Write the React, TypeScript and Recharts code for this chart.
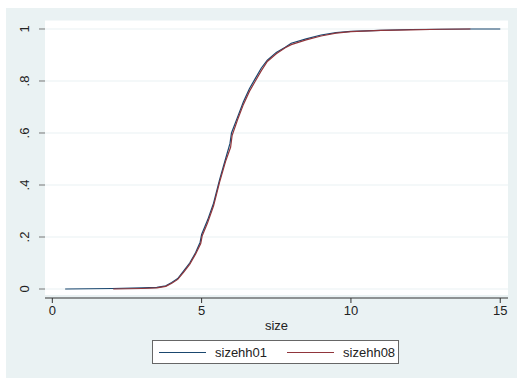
import React from "react";
import { LineChart, Line, XAxis, YAxis, CartesianGrid, ReferenceArea } from "recharts";

// Empirical CDFs of household size, two survey rounds
const sizes01 = [0.43, 2.0, 3.0, 3.5, 3.8, 4.0, 4.2, 4.4, 4.6, 4.8, 4.95, 5.0, 5.2, 5.4, 5.6, 5.8, 5.95, 6.0, 6.2, 6.4, 6.6, 6.8, 7.0, 7.2, 7.5, 7.8, 8.0, 8.5, 9.0, 9.5, 10.0, 11.0, 12.0, 13.0, 14.0, 15.0];
const cdf01 = [0, 0.002, 0.004, 0.006, 0.012, 0.025, 0.04, 0.07, 0.1, 0.14, 0.18, 0.21, 0.265, 0.33, 0.42, 0.5, 0.56, 0.6, 0.66, 0.72, 0.77, 0.81, 0.85, 0.88, 0.91, 0.93, 0.945, 0.962, 0.977, 0.986, 0.991, 0.995, 0.998, 0.999, 1.0, 1.0];

const sizes08 = [2.04, 3.0, 3.5, 3.8, 4.0, 4.2, 4.4, 4.6, 4.8, 4.97, 5.02, 5.2, 5.4, 5.6, 5.8, 5.97, 6.02, 6.2, 6.4, 6.6, 6.8, 7.0, 7.2, 7.5, 7.8, 8.0, 8.5, 9.0, 9.5, 10.0, 11.0, 12.0, 13.0, 14.0];
const cdf08 = [0, 0.002, 0.004, 0.01, 0.022, 0.037, 0.065, 0.095, 0.135, 0.175, 0.205, 0.255, 0.32, 0.41, 0.49, 0.545, 0.59, 0.65, 0.71, 0.76, 0.8, 0.84, 0.875, 0.905, 0.928, 0.94, 0.958, 0.973, 0.984, 0.99, 0.995, 0.997, 0.999, 1.0];

const xTicks = [0, 5, 10, 15];
const yTicks = [0, 0.2, 0.4, 0.6, 0.8, 1];
const yTickLabels = ["0", ".2", ".4", ".6", ".8", "1"];

const toPoints = (xs: number[], ys: number[]) => xs.map((x, i) => ({ size: x, cdf: ys[i] }));

const series = [
  { name: "sizehh01", color: "#1A476F", data: toPoints(sizes01, cdf01) },
  { name: "sizehh08", color: "#90353B", data: toPoints(sizes08, cdf08) },
];

const BG = "#EAF2F3";
const FONT = "'Liberation Sans', Arial, sans-serif";

const YTick = (props: any) => {
  const { x, y, payload } = props;
  const idx = yTicks.indexOf(payload.value);
  return (
    <text
      x={0}
      y={0}
      transform={`translate(${x - 8},${y}) rotate(-90)`}
      textAnchor="middle"
      fontSize={13}
      fontFamily={FONT}
      fill="#222"
    >
      {idx >= 0 ? yTickLabels[idx] : payload.value}
    </text>
  );
};

export default function App() {
  return (
    <div style={{ position: "absolute", left: 0, top: 0, width: 517, height: 378, background: "#fff" }}>
      <div style={{ position: "absolute", left: 6, top: 8, width: 511, height: 370, background: BG }} />
      <div style={{ position: "absolute", left: 0, top: 0 }}>
        <LineChart width={517} height={378} margin={{ top: 20, right: 9, bottom: 48, left: 0 }}>
          <CartesianGrid horizontal vertical={false} stroke={BG} strokeWidth={1.2} fill="#fff" />
          <ReferenceArea y1={-0.0346} y2={-0.023} fill={BG} fillOpacity={1} stroke="none" ifOverflow="hidden" />
          <XAxis
            type="number"
            dataKey="size"
            domain={[-0.245, 15.26]}
            allowDataOverflow
            ticks={xTicks}
            tickSize={5}
            tickMargin={3}
            height={32}
            stroke="#333"
            tick={{ fontSize: 13, fontFamily: FONT, fill: "#222" }}
            label={{ value: "size", position: "insideBottom", offset: 0, fontSize: 13, fontFamily: FONT, fill: "#222" }}
          />
          <YAxis
            type="number"
            domain={[-0.0346, 1.0346]}
            allowDataOverflow
            ticks={yTicks}
            width={45}
            axisLine={false}
            tickSize={6}
            tickLine={{ stroke: "#777" }}
            tick={<YTick />}
          />
          {series.map((s) => (
            <Line
              key={s.name}
              data={s.data}
              dataKey="cdf"
              name={s.name}
              type="linear"
              stroke={s.color}
              strokeWidth={1.2}
              dot={false}
              isAnimationActive={false}
            />
          ))}
        </LineChart>
      </div>
      <div
        style={{
          position: "absolute",
          left: 152,
          top: 340,
          width: 245,
          height: 22,
          background: "#fff",
          border: "1px solid #666",
          display: "flex",
          alignItems: "center",
          fontFamily: FONT,
          fontSize: 13,
          color: "#222",
        }}
      >
        {series.map((s, i) => (
          <div key={s.name} style={{ display: "flex", alignItems: "center", marginLeft: i === 0 ? 6 : 20 }}>
            <div style={{ width: 47, height: 1, background: s.color, marginRight: 9 }} />
            <span>{s.name}</span>
          </div>
        ))}
      </div>
    </div>
  );
}
